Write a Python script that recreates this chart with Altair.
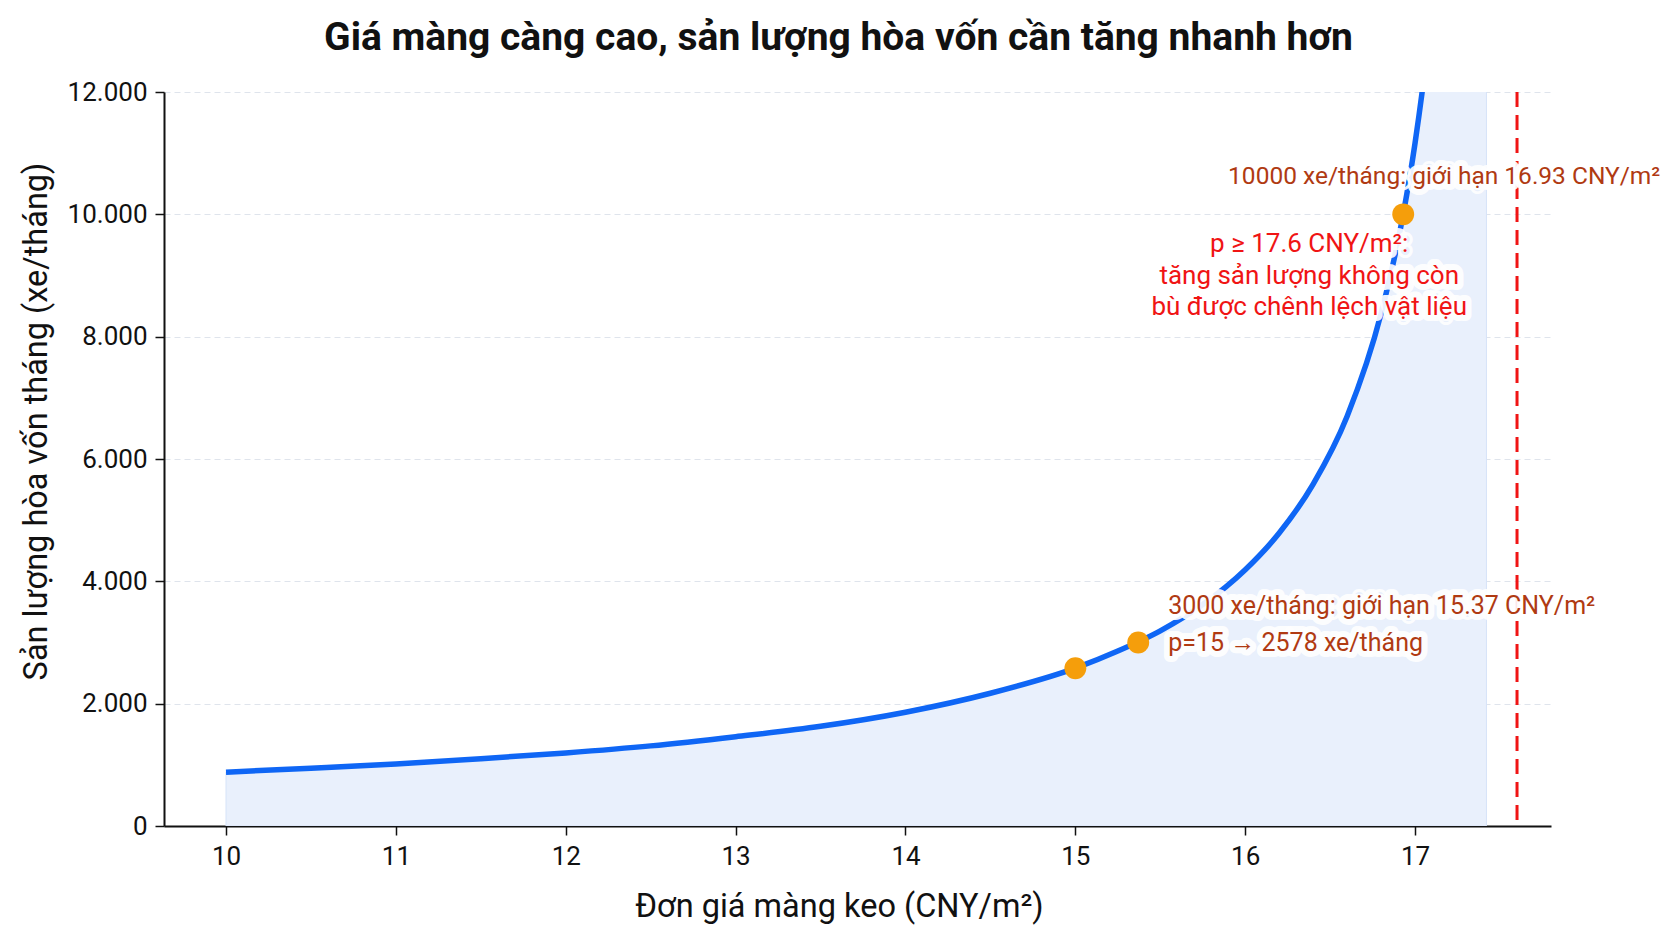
# Điểm hòa vốn theo giá màng keo
import altair as alt
import pandas as pd

# Đường cong sản lượng hòa vốn
gia = [10.0, 10.5, 11.0, 11.5, 12.0, 12.5, 13.0, 13.5, 14.0, 14.5, 15.0, 15.25,
       15.5, 15.75, 16.0, 16.2, 16.4, 16.6, 16.8, 16.93, 17.0, 17.1, 17.2, 17.3, 17.42]
san_luong = [880, 945, 1015, 1100, 1195, 1310, 1460, 1630, 1860, 2170, 2580, 2860,
             3190, 3620, 4190, 4790, 5590, 6700, 8380, 10000, 11170, 13400, 16750, 22300, 37200]

# Các điểm đánh dấu
diem_gia = [15.0, 15.37, 16.93]
diem_sl = [2578, 3000, 10000]

# Giá trần
gia_tran = 17.6

FONT = "Roboto"
NAU = "#b03a12"
DO = "#f01414"

df = pd.DataFrame({"gia": gia, "sl": san_luong})
df_diem = pd.DataFrame({"gia": diem_gia, "sl": diem_sl})

x_scale = alt.Scale(domain=[9.635, 17.8], nice=False, zero=False)
y_scale = alt.Scale(domain=[0, 12000], nice=False)

x_enc = alt.X("gia:Q", scale=x_scale, title="Đơn giá màng keo (CNY/m²)",
              axis=alt.Axis(values=[10, 11, 12, 13, 14, 15, 16, 17], grid=False,
                            format="d", titleX=675, titleY=80, titleBaseline="middle"))
y_enc = alt.Y("sl:Q", scale=y_scale, title="Sản lượng hòa vốn tháng (xe/tháng)",
              axis=alt.Axis(values=[0, 2000, 4000, 6000, 8000, 10000, 12000],
                            labelExpr="replace(format(datum.value, ','), ',', '.')",
                            grid=True, gridDash=[6, 4], gridColor="#dfe4ec",
                            titleX=-128, titleY=329, titleBaseline="middle",
                            titleAngle=-90))

vung = alt.Chart(df).mark_area(clip=True, interpolate="monotone", color="#e9f0fc",
                               stroke="#d6e3f8", strokeWidth=1).encode(x=x_enc, y=y_enc)

duong = alt.Chart(df).mark_line(clip=True, interpolate="monotone", color="#0f66f5",
                                strokeWidth=5.5).encode(x="gia:Q", y="sl:Q")

tran = alt.Chart(pd.DataFrame({"gia": [gia_tran]})).mark_rule(
    color=DO, strokeWidth=3, strokeDash=[15, 8]).encode(
    x="gia:Q", y=alt.value(0), y2=alt.value(734))

diem = alt.Chart(df_diem).mark_circle(size=480, color="#f59e0b", opacity=1).encode(
    x="gia:Q", y="sl:Q")

# Chú thích (có viền trắng phía sau chữ)
def ghi_chu(g, s, noi_dung, mau, co_chu=25, **kw):
    base = alt.Chart(pd.DataFrame({"gia": [g], "sl": [s], "t": [noi_dung]})).encode(
        x="gia:Q", y="sl:Q", text="t:N")
    vien = base.mark_text(font=FONT, fontSize=co_chu, strokeJoin="round", **kw).encode(
        fill=alt.value("white"), stroke=alt.value("white"),
        strokeWidth=alt.value(12), strokeOpacity=alt.value(0.92))
    chu = base.mark_text(font=FONT, fontSize=co_chu, **kw).encode(fill=alt.value(mau))
    return [vien, chu]

gc1 = ghi_chu(16.93, 10000, "10000 xe/tháng: giới hạn 16.93 CNY/m²", NAU, 24.5,
              align="center", baseline="middle", dx=41, dy=-37)
gc2 = ghi_chu(16.93, 10000, "p ≥ 17.6 CNY/m²:\ntăng sản lượng không còn\nbù được chênh lệch vật liệu",
              DO, 26, align="center", baseline="top", dx=-94, dy=17, lineBreak="\n", lineHeight=31.5)
gc3 = ghi_chu(15.37, 3000, "3000 xe/tháng: giới hạn 15.37 CNY/m²", NAU, 25,
              align="left", baseline="middle", dx=30, dy=-37)
gc4 = ghi_chu(15.37, 3000, "p=15 → 2578 xe/tháng", NAU, 25,
              align="left", baseline="middle", dx=30, dy=0)

chart = alt.layer(vung, duong, tran, diem, *gc1, *gc2, *gc3, *gc4).properties(
    width=1387, height=734,
    background="white",
    autosize=alt.AutoSizeParams(type="none"),
    padding={"left": 156, "top": 84, "right": 119, "bottom": 103},
    title=alt.TitleParams("Giá màng càng cao, sản lượng hòa vốn cần tăng nhanh hơn",
                          font=FONT, fontSize=39, fontWeight="bold", color="#111111",
                          anchor="middle", dx=-19, offset=40, dy=50, baseline="alphabetic"),
).configure_view(stroke=None).configure_axis(
    labelFont=FONT, titleFont=FONT, labelFontSize=26, titleFontSize=32.5,
    labelColor="#111111", titleColor="#111111", titleFontWeight="normal",
    domainColor="#111111", domainWidth=2, tickColor="#111111", tickWidth=1.5,
    tickSize=9, labelPadding=8,
)

chart.save("out.html", embed_options={"renderer": "svg", "actions": False})
